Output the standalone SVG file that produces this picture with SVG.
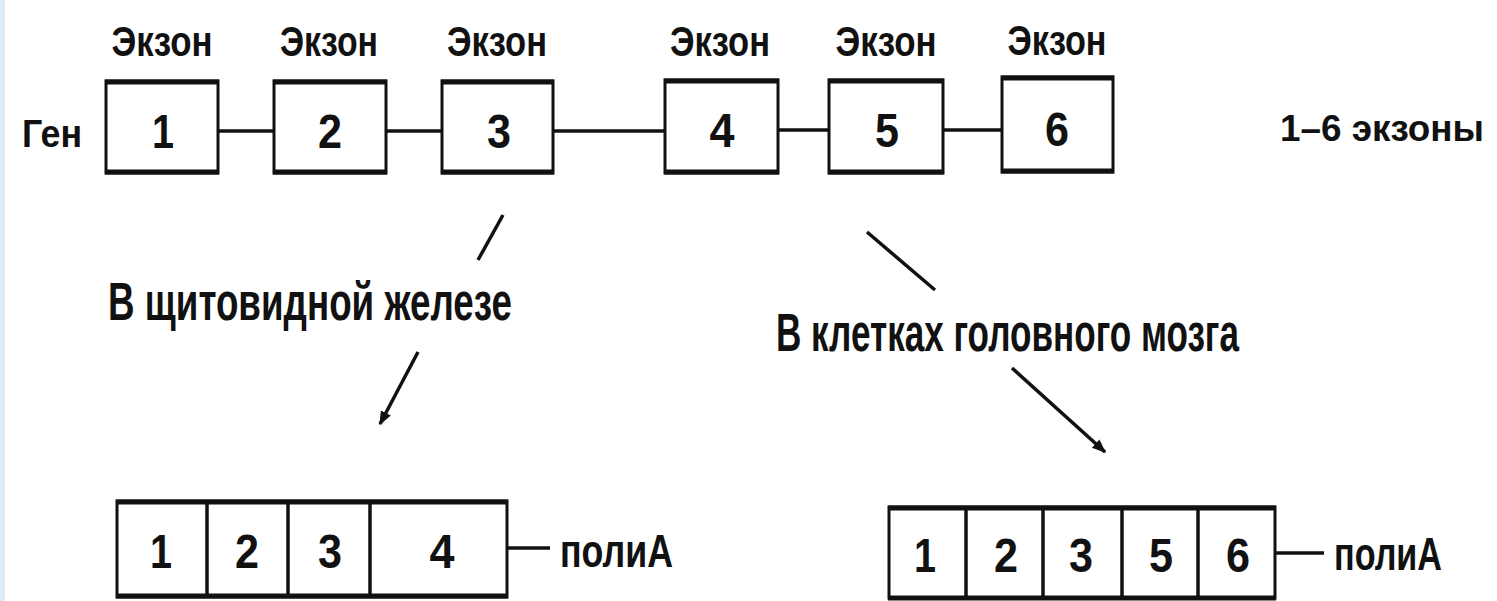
<svg xmlns="http://www.w3.org/2000/svg" width="1497" height="601" viewBox="0 0 1497 601">
  <defs>
    <style>
      .t { font-family: "Liberation Sans", Arial, sans-serif; fill: #111; font-weight: bold; }
      .box { fill: #fff; stroke: #111; stroke-width: 3; }
      .edge { stroke: #111; stroke-width: 5; }
      .ln { stroke: #111; stroke-width: 3.5; fill: none; }
      .exon { font-size: 42px; text-anchor: middle; }
      .num { font-size: 48px; text-anchor: middle; }
      .lab { font-size: 53px; }
    </style>
    <marker id="ah" viewBox="0 0 10 10" refX="9" refY="5" markerWidth="4" markerHeight="4" orient="auto" markerUnits="strokeWidth">
      <path d="M0,1 L10,5 L0,9 z" fill="#111"/>
    </marker>
  </defs>
  <rect x="0" y="0" width="1497" height="601" fill="#fff"/>
  <rect x="0" y="0" width="5" height="601" fill="#dcedf9"/>

  <g id="connectors">
    <line class="ln" x1="218" y1="131" x2="274" y2="131"/>
    <line class="ln" x1="386" y1="131" x2="442" y2="131"/>
    <line class="ln" x1="553" y1="131" x2="665" y2="131"/>
    <line class="ln" x1="778" y1="130" x2="829" y2="130"/>
    <line class="ln" x1="943" y1="130" x2="1002" y2="130"/>
    <line class="ln" x1="503" y1="215" x2="478" y2="260"/>
    <line class="ln" x1="418" y1="352" x2="380" y2="424" marker-end="url(#ah)"/>
    <line class="ln" x1="867" y1="232" x2="935" y2="290"/>
    <line class="ln" x1="1012" y1="368" x2="1105" y2="452" marker-end="url(#ah)"/>
    <line class="ln" x1="507" y1="548" x2="550" y2="548"/>
    <line class="ln" x1="1275" y1="553" x2="1324" y2="553"/>
  </g>

  <g id="gene-label">
    <text class="t" x="22" y="147" font-size="39" textLength="60" lengthAdjust="spacingAndGlyphs">Ген</text>
  </g>

  <g id="exon1">
    <text class="t exon" x="162" y="56" textLength="101" lengthAdjust="spacingAndGlyphs">Экзон</text>
    <rect class="box" x="106" y="81" width="112" height="92"/>
    <line class="edge" x1="105" y1="82" x2="219" y2="82"/>
    <line class="edge" x1="105" y1="172" x2="219" y2="172"/>
    <text class="t num" x="163" y="148" textLength="22" lengthAdjust="spacingAndGlyphs">1</text>
  </g>
  <g id="exon2">
    <text class="t exon" x="329" y="56" textLength="98" lengthAdjust="spacingAndGlyphs">Экзон</text>
    <rect class="box" x="274" y="81" width="112" height="92"/>
    <line class="edge" x1="273" y1="82" x2="387" y2="82"/>
    <line class="edge" x1="273" y1="172" x2="387" y2="172"/>
    <text class="t num" x="330" y="148" textLength="24" lengthAdjust="spacingAndGlyphs">2</text>
  </g>
  <g id="exon3">
    <text class="t exon" x="497" y="56" textLength="100" lengthAdjust="spacingAndGlyphs">Экзон</text>
    <rect class="box" x="442" y="81" width="111" height="92"/>
    <line class="edge" x1="441" y1="82" x2="554" y2="82"/>
    <line class="edge" x1="441" y1="172" x2="554" y2="172"/>
    <text class="t num" x="499" y="148" textLength="24" lengthAdjust="spacingAndGlyphs">3</text>
  </g>
  <g id="exon4">
    <text class="t exon" x="720" y="56" textLength="100" lengthAdjust="spacingAndGlyphs">Экзон</text>
    <rect class="box" x="665" y="80" width="113" height="93"/>
    <line class="edge" x1="664" y1="81" x2="779" y2="81"/>
    <line class="edge" x1="664" y1="172" x2="779" y2="172"/>
    <text class="t num" x="722" y="147" textLength="25" lengthAdjust="spacingAndGlyphs">4</text>
  </g>
  <g id="exon5">
    <text class="t exon" x="886" y="56" textLength="101" lengthAdjust="spacingAndGlyphs">Экзон</text>
    <rect class="box" x="829" y="80" width="114" height="93"/>
    <line class="edge" x1="828" y1="81" x2="944" y2="81"/>
    <line class="edge" x1="828" y1="172" x2="944" y2="172"/>
    <text class="t num" x="887" y="147" textLength="24" lengthAdjust="spacingAndGlyphs">5</text>
  </g>
  <g id="exon6">
    <text class="t exon" x="1057" y="55" textLength="99" lengthAdjust="spacingAndGlyphs">Экзон</text>
    <rect class="box" x="1002" y="77" width="111" height="95"/>
    <line class="edge" x1="1001" y1="78" x2="1114" y2="78"/>
    <line class="edge" x1="1001" y1="171" x2="1114" y2="171"/>
    <text class="t num" x="1057" y="146" textLength="24" lengthAdjust="spacingAndGlyphs">6</text>
  </g>

  <g id="legend">
    <text class="t" x="1280" y="141" font-size="37" textLength="204" lengthAdjust="spacingAndGlyphs">1–6 экзоны</text>
  </g>

  <g id="label-thyroid">
    <text class="t lab" x="108" y="320" textLength="404" lengthAdjust="spacingAndGlyphs">В щитовидной железе</text>
  </g>
  <g id="label-brain">
    <text class="t lab" x="776" y="351" textLength="463" lengthAdjust="spacingAndGlyphs">В клетках головного мозга</text>
  </g>

  <g id="mrna-thyroid">
    <rect class="box" x="117" y="501" width="390" height="96"/>
    <line class="edge" x1="116" y1="502" x2="508" y2="502"/>
    <line class="edge" x1="116" y1="596" x2="508" y2="596"/>
    <line class="ln" x1="207" y1="501" x2="207" y2="597"/>
    <line class="ln" x1="288" y1="501" x2="288" y2="597"/>
    <line class="ln" x1="370" y1="501" x2="370" y2="597"/>
    <text class="t num" x="161" y="568" textLength="22" lengthAdjust="spacingAndGlyphs">1</text>
    <text class="t num" x="247" y="568" textLength="24" lengthAdjust="spacingAndGlyphs">2</text>
    <text class="t num" x="330" y="568" textLength="24" lengthAdjust="spacingAndGlyphs">3</text>
    <text class="t num" x="442" y="568" textLength="25" lengthAdjust="spacingAndGlyphs">4</text>
    <text class="t" x="560" y="567" font-size="46" textLength="113" lengthAdjust="spacingAndGlyphs">полиА</text>
  </g>

  <g id="mrna-brain">
    <rect class="box" x="889" y="507" width="386" height="91"/>
    <line class="edge" x1="888" y1="508" x2="1276" y2="508"/>
    <line class="edge" x1="888" y1="598" x2="1276" y2="598"/>
    <line class="ln" x1="966" y1="507" x2="966" y2="598"/>
    <line class="ln" x1="1043" y1="507" x2="1043" y2="598"/>
    <line class="ln" x1="1122" y1="507" x2="1122" y2="598"/>
    <line class="ln" x1="1198" y1="507" x2="1198" y2="598"/>
    <text class="t num" x="925" y="572" textLength="22" lengthAdjust="spacingAndGlyphs">1</text>
    <text class="t num" x="1006" y="572" textLength="24" lengthAdjust="spacingAndGlyphs">2</text>
    <text class="t num" x="1081" y="572" textLength="24" lengthAdjust="spacingAndGlyphs">3</text>
    <text class="t num" x="1161" y="572" textLength="24" lengthAdjust="spacingAndGlyphs">5</text>
    <text class="t num" x="1238" y="572" textLength="24" lengthAdjust="spacingAndGlyphs">6</text>
    <text class="t" x="1334" y="570" font-size="46" textLength="108" lengthAdjust="spacingAndGlyphs">полиА</text>
  </g>
</svg>
